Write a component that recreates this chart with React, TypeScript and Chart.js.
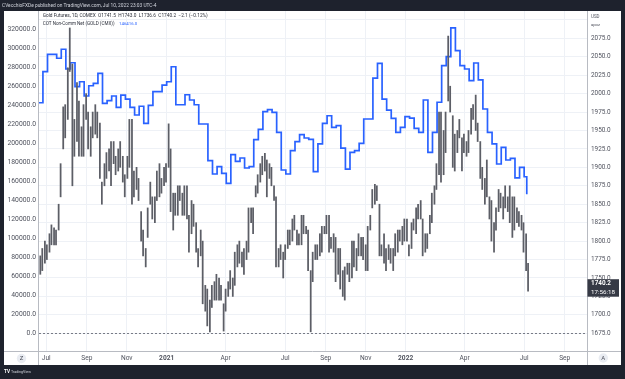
import React, { useEffect, useRef } from "react";
import { Chart, registerables } from "chart.js";

Chart.register(...registerables);

// ---------- DATA ----------
const X_MIN_DATE = "2020-06-20";
const X_MAX_DATE = "2022-10-05";

const xTickDates = ["2020-07-01", "2020-09-01", "2020-11-01", "2021-01-01", "2021-04-01", "2021-07-01", "2021-09-01", "2021-11-01", "2022-01-01", "2022-04-01", "2022-07-01", "2022-09-01"];
const xTickLabels = ["Jul", "Sep", "Nov", "2021", "Apr", "Jul", "Sep", "Nov", "2022", "Apr", "Jul", "Sep"];

const leftTicks = [0, 20000, 40000, 60000, 80000, 100000, 120000, 140000, 160000, 180000, 200000, 220000, 240000, 260000, 280000, 300000, 320000];
const rightTicks = [1675, 1700, 1725, 1750, 1775, 1800, 1825, 1850, 1875, 1900, 1925, 1950, 1975, 2000, 2025, 2050, 2075, 2100];

// COT Non-Comm Net, weekly (Fridays from start)
const cotStartFriday = "2020-06-19";
const cotValues = [
  242700, 275400, 293700, 293700, 289500, 299000, 278200, 284800, 259600, 264800,
  249800, 260600, 263000, 273700, 242100, 244900, 249800, 237900, 250800, 246600,
  237900, 229800, 239000, 221000, 240000, 254300, 254300, 261300, 264800, 280600,
  240600, 240600, 251100, 245600, 240600, 220300, 220300, 181700, 167700, 175400,
  168400, 157900, 188000, 181000, 184500, 174000, 175400, 203800, 214700, 233300,
  235400, 232600, 211600, 171900, 167700, 192200, 201700, 209100, 205600, 204200,
  170100, 199300, 221000, 229000, 216800, 218600, 195000, 172900, 190500, 192200,
  200000, 225600, 225600, 268700, 284200, 246600, 235000, 226300, 211600, 216800,
  228000, 226600, 215800, 211600, 245600, 190500, 211600, 243200, 281700, 291200,
  321400, 297500, 281700, 278200, 266000, 284500, 266700, 236100, 211600, 199300,
  178200, 195800, 182400, 184100, 163500, 174700, 164800,
];
const cotLastDate = "2022-07-05";
const cotLastValue = 146416;

// Gold futures: two ranges per week (Mon-Tue, Wed-Fri), weeks from start Monday
const goldStartMonday = "2020-06-22";
const goldLow = [
  1755, 1760, 1770, 1775, 1785, 1795, 1795, 1795, 1815, 1860, 1925, 1940, 1965, 2030, 1875, 1915, 1935, 1915, 1915, 1915,
  1965, 1925, 1915, 1940, 1945, 1940, 1885, 1850, 1875, 1885, 1895, 1875, 1905, 1890, 1895, 1900, 1880, 1860, 1885, 1900,
  1850, 1860, 1870, 1855, 1800, 1780, 1765, 1805, 1850, 1830, 1825, 1855, 1860, 1865, 1875, 1880, 1900, 1840, 1815, 1835,
  1835, 1855, 1835, 1835, 1830, 1785, 1810, 1820, 1785, 1765, 1780, 1715, 1705, 1685, 1677, 1710, 1720, 1720, 1720, 1720,
  1678, 1705, 1725, 1735, 1725, 1740, 1765, 1770, 1765, 1755, 1775, 1785, 1825, 1810, 1860, 1865, 1880, 1890, 1895, 1860,
  1885, 1875, 1855, 1765, 1765, 1775, 1750, 1775, 1790, 1795, 1800, 1815, 1795, 1795, 1795, 1810, 1810, 1760, 1677, 1745,
  1775, 1775, 1780, 1785, 1810, 1810, 1785, 1790, 1785, 1745, 1755, 1735, 1725, 1720, 1755, 1745, 1750, 1765, 1760, 1780,
  1780, 1775, 1760, 1760, 1815, 1845, 1850, 1855, 1780, 1780, 1770, 1760, 1775, 1770, 1760, 1780, 1785, 1800, 1795, 1800,
  1800, 1780, 1790, 1815, 1810, 1830, 1830, 1780, 1785, 1790, 1810, 1825, 1850, 1870, 1890, 1880, 1890, 1920, 1990, 1975,
  1900, 1895, 1920, 1940, 1895, 1920, 1915, 1920, 1945, 1965, 1950, 1935, 1885, 1870, 1850, 1860, 1830, 1800, 1785, 1815,
  1840, 1845, 1830, 1845, 1840, 1825, 1805, 1815, 1825, 1820, 1815, 1785, 1760, 1732,
];
const goldHigh = [
  1780, 1790, 1800, 1795, 1810, 1822, 1818, 1815, 1850, 1905, 1982, 1985, 2035, 2089, 2040, 1965, 2015, 1990, 1955, 1985,
  2000, 1975, 1955, 1975, 1985, 1975, 1960, 1880, 1905, 1920, 1925, 1935, 1935, 1915, 1925, 1935, 1915, 1890, 1915, 1965,
  1965, 1895, 1900, 1885, 1840, 1815, 1790, 1845, 1880, 1860, 1860, 1895, 1905, 1885, 1900, 1905, 1959, 1925, 1865, 1865,
  1875, 1875, 1865, 1875, 1875, 1835, 1855, 1850, 1825, 1790, 1815, 1800, 1740, 1735, 1720, 1740, 1745, 1755, 1750, 1740,
  1715, 1735, 1745, 1760, 1750, 1785, 1795, 1800, 1785, 1790, 1800, 1845, 1845, 1845, 1875, 1890, 1905, 1915, 1919, 1910,
  1905, 1900, 1875, 1860, 1790, 1795, 1785, 1795, 1815, 1815, 1830, 1835, 1815, 1810, 1835, 1835, 1820, 1815, 1760, 1785,
  1795, 1795, 1810, 1820, 1820, 1835, 1835, 1805, 1810, 1805, 1790, 1790, 1760, 1765, 1770, 1770, 1800, 1800, 1790, 1810,
  1805, 1805, 1795, 1820, 1835, 1870, 1877, 1875, 1850, 1795, 1810, 1790, 1795, 1790, 1790, 1810, 1815, 1815, 1820, 1830,
  1830, 1795, 1825, 1830, 1845, 1850, 1855, 1830, 1810, 1810, 1835, 1865, 1875, 1905, 1975, 1975, 1950, 1975, 2078, 2010,
  1970, 1945, 1950, 1965, 1940, 1945, 1935, 1950, 1980, 1985, 1998, 1960, 1935, 1900, 1885, 1910, 1860, 1855, 1825, 1845,
  1870, 1865, 1860, 1875, 1860, 1875, 1860, 1860, 1845, 1840, 1835, 1825, 1810, 1770,
];
const lastClose = 1740.2;

// ---------- TEXT ----------
const HEADER = "CVecchioFXDe published on TradingView.com, Jul 10, 2022 23:03 UTC-4";
const LEGEND1 = "Gold Futures, 1D, COMEX  O1741.5  H1743.0  L1736.6  C1740.2  \u22122.1 (\u22120.12%)";
const LEGEND2 = "COT Non-Comm Net (GOLD (CMX))";
const LEGEND2_VALUE = "146416.0";
const COUNTDOWN = "17:56:18";

const FONT = "Roboto, 'DejaVu Sans', sans-serif";
const BASE = Date.UTC(2020, 5, 1);
const dayOf = (s: string) => (Date.parse(s + "T00:00:00Z") - BASE) / 86400000;

function fitText(ctx: CanvasRenderingContext2D, text: string, x: number, y: number, width: number, weight = "normal") {
  ctx.font = `${weight} 10px ${FONT}`;
  const w = ctx.measureText(text).width;
  const size = (10 * width) / w;
  ctx.font = `${weight} ${size.toFixed(2)}px ${FONT}`;
  ctx.fillText(text, x, y);
}

const tvPlugin = {
  id: "tvFrame",
  beforeDraw(chart: any) {
    const ctx = chart.ctx as CanvasRenderingContext2D;
    ctx.save();
    ctx.fillStyle = "#1e222d";
    ctx.fillRect(0, 0, 625, 379);
    ctx.fillStyle = "#ffffff";
    ctx.fillRect(4, 11, 617, 354);
    ctx.fillStyle = "#d1d4dc";
    ctx.textBaseline = "middle";
    ctx.textAlign = "left";
    fitText(ctx, HEADER, 2, 6, 155);
    ctx.fillStyle = "#ffffff";
    fitText(ctx, "TV", 4, 372, 6, "bold");
    ctx.fillStyle = "#d1d4dc";
    fitText(ctx, "TradingView", 11, 372, 20);
    ctx.restore();
  },
  beforeDatasetsDraw(chart: any) {
    const ctx = chart.ctx as CanvasRenderingContext2D;
    const { left, right } = chart.chartArea;
    const y0 = Math.round(chart.scales.y.getPixelForValue(0)) + 0.5;
    ctx.save();
    ctx.strokeStyle = "#787b86";
    ctx.lineWidth = 1;
    ctx.setLineDash([2, 2]);
    ctx.beginPath();
    ctx.moveTo(left, y0);
    ctx.lineTo(right, y0);
    ctx.stroke();
    ctx.restore();
  },
  afterDraw(chart: any) {
    const ctx = chart.ctx as CanvasRenderingContext2D;
    const { left, right, bottom } = chart.chartArea;
    ctx.save();
    ctx.strokeStyle = "#b8bbc2";
    ctx.lineWidth = 1;
    ctx.beginPath();
    ctx.moveTo(Math.round(left) - 0.5, 11);
    ctx.lineTo(Math.round(left) - 0.5, 365);
    ctx.moveTo(Math.round(right) + 0.5, 11);
    ctx.lineTo(Math.round(right) + 0.5, 365);
    ctx.moveTo(4, Math.round(bottom) + 0.5);
    ctx.lineTo(621, Math.round(bottom) + 0.5);
    ctx.stroke();

    ctx.textBaseline = "middle";
    ctx.textAlign = "left";
    ctx.fillStyle = "#2a2e39";
    fitText(ctx, LEGEND1, 42.7, 16, 165.5);
    fitText(ctx, LEGEND2, 42.7, 23.5, 72);
    ctx.fillStyle = "#2962ff";
    fitText(ctx, LEGEND2_VALUE, 119, 23.5, 18.3);

    ctx.fillStyle = "#50535e";
    fitText(ctx, "USD", 591, 16.5, 8.5);
    fitText(ctx, "apoz", 591, 25, 9);

    const py = chart.scales.y1.getPixelForValue(lastClose);
    ctx.fillStyle = "#363a45";
    ctx.fillRect(587.5, py - 6, 31.5, 17.5);
    ctx.fillStyle = "#ffffff";
    fitText(ctx, lastClose.toFixed(1), 591, py - 1.5, 20, "bold");
    fitText(ctx, COUNTDOWN, 591, py + 7, 24);

    const btn = (cx: number, cy: number, t: string) => {
      ctx.fillStyle = "#e9ecf2";
      ctx.beginPath();
      ctx.arc(cx, cy, 4.7, 0, Math.PI * 2);
      ctx.fill();
      ctx.fillStyle = "#50535e";
      ctx.textAlign = "center";
      ctx.font = `6px ${FONT}`;
      ctx.fillText(t, cx, cy + 0.3);
      ctx.textAlign = "left";
    };
    btn(21.5, 358.5, "Z");
    btn(603.3, 358, "A");
    ctx.restore();
  },
};

export default function App() {
  const ref = useRef<HTMLCanvasElement>(null);

  useEffect(() => {
    const xTickDays = xTickDates.map(dayOf);
    const cotStart = dayOf(cotStartFriday);
    const cotData = cotValues.map((v, i) => ({ x: cotStart + 7 * i, y: v }));
    cotData.push({ x: dayOf(cotLastDate), y: cotLastValue });

    const gStart = dayOf(goldStartMonday);
    const goldData = goldLow.map((lo, i) => ({
      x: gStart + 7 * Math.floor(i / 2) + (i % 2 ? 3 : 0),
      y: [lo, goldHigh[i]],
    }));

    const tickColor = "#50535e";
    const chart = new Chart(ref.current!, {
      type: "line",
      data: {
        datasets: [
          {
            type: "bar",
            label: "Gold",
            data: goldData as any,
            xAxisID: "x",
            yAxisID: "y1",
            backgroundColor: "#5c5e66",
            borderWidth: 0,
            barThickness: 1.1,
            grouped: false,
            order: 0,
          } as any,
          {
            type: "line",
            label: "COT",
            data: cotData,
            xAxisID: "x",
            yAxisID: "y",
            borderColor: "#2962ff",
            borderWidth: 1.7,
            pointRadius: 0,
            stepped: true,
            fill: false,
            order: 1,
          },
        ],
      },
      options: {
        responsive: false,
        animation: false,
        devicePixelRatio: 1,
        layout: { padding: { left: 0, right: 4, top: 11, bottom: 14 } },
        plugins: { legend: { display: false }, tooltip: { enabled: false } },
        scales: {
          x: {
            type: "linear",
            min: dayOf(X_MIN_DATE),
            max: dayOf(X_MAX_DATE),
            offset: false,
            grid: { color: "#eef1f6", drawTicks: false, offset: false },
            border: { display: false },
            afterBuildTicks: (s: any) => {
              s.ticks = xTickDays.map((v) => ({ value: v }));
            },
            afterFit: (s: any) => {
              s.height = 14;
            },
            ticks: {
              autoSkip: false,
              maxRotation: 0,
              minRotation: 0,
              padding: 3.5,
              color: tickColor,
              font: (c: any) => ({
                family: FONT,
                size: 6.6,
                weight: c.tick && /^\d{4}$/.test(String(c.tick.label)) ? "bold" : "normal",
              }),
              callback: (v: any) => {
                const i = xTickDays.findIndex((d) => Math.abs(d - v) < 0.01);
                return i >= 0 ? xTickLabels[i] : "";
              },
            },
          },
          y: {
            type: "linear",
            position: "left",
            min: -18632,
            max: 339263,
            grid: { display: false, drawTicks: false },
            border: { display: false },
            afterBuildTicks: (s: any) => {
              s.ticks = leftTicks.map((v) => ({ value: v }));
            },
            afterFit: (s: any) => {
              s.width = 39;
            },
            ticks: {
              padding: 3,
              color: tickColor,
              font: { family: FONT, size: 6.8 },
              callback: (v: any) => Number(v).toFixed(1),
            },
          },
          y1: {
            type: "linear",
            position: "right",
            min: 1651,
            max: 2112,
            grid: { color: "#eef1f6", drawTicks: false },
            border: { display: false },
            afterBuildTicks: (s: any) => {
              s.ticks = rightTicks.map((v) => ({ value: v }));
            },
            afterFit: (s: any) => {
              s.width = 34;
            },
            ticks: {
              padding: 4,
              color: tickColor,
              font: { family: FONT, size: 6.4 },
              callback: (v: any) => (Number(v) >= 2100 ? "" : Number(v).toFixed(1)),
            },
          },
        },
      },
      plugins: [tvPlugin],
    });
    return () => chart.destroy();
  }, []);

  return (
    <div style={{ position: "absolute", left: 0, top: 0, width: 625, height: 379 }}>
      <canvas ref={ref} width={625} height={379} style={{ display: "block", width: 625, height: 379 }} />
    </div>
  );
}
